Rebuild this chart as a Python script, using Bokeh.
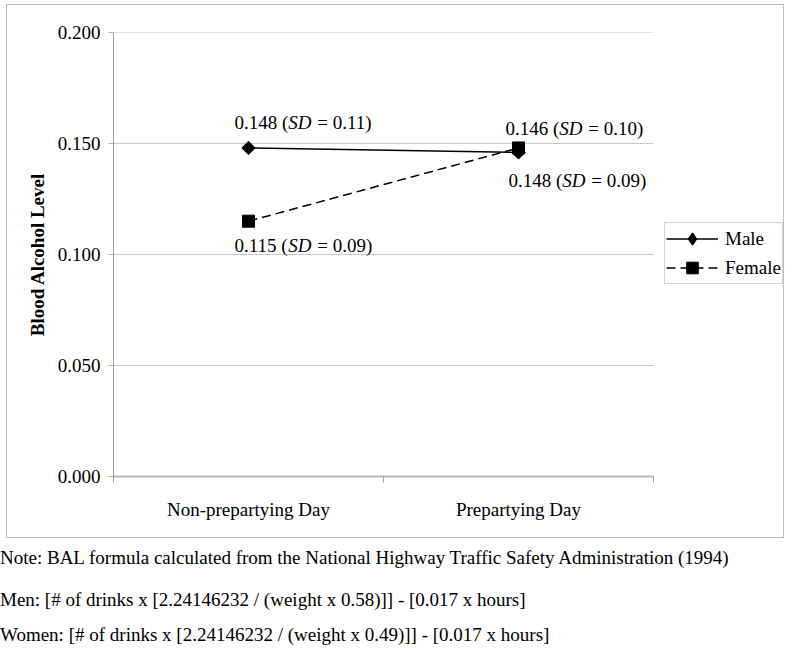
import math
from bokeh.plotting import figure
from bokeh.layouts import column
from bokeh.models import (FixedTicker, Range1d, Legend, LegendItem, Div,
                          NumeralTickFormatter, ColumnDataSource)
from bokeh.core.properties import value
from bokeh.embed import file_html
from bokeh.resources import INLINE

# ---------------- data ----------------
categories = ["Non-prepartying Day", "Prepartying Day"]
series_names = ["Male", "Female"]
male_bal = [0.148, 0.146]
female_bal = [0.115, 0.148]
male_sd = [0.11, 0.10]
female_sd = [0.09, 0.09]
y_ticks = [0.000, 0.050, 0.100, 0.150, 0.200]
y_title = "Blood Alcohol Level"
notes = [
    "Note: BAL formula calculated from the National Highway Traffic Safety Administration (1994)",
    "Men: [# of drinks x [2.24146232 / (weight x 0.58)]] - [0.017 x hours]",
    "Women: [# of drinks x [2.24146232 / (weight x 0.49)]] - [0.017 x hours]",
]

# ---------------- style ----------------
FONT = "Liberation Serif"
FS = 19
FSZ = f"{FS}px"

# label offsets (pixels) relative to each point: (dx, dy) with dy downward
label_offsets = {
    "Male": [(-14, -25), (-13, -24)],
    "Female": [(-14, 24), (-10, 33)],
}

# approximate Times metrics (em) to place italic "SD" inline
REG = {c: 0.5 for c in "0123456789"}
REG.update({".": 0.25, " ": 0.25, "(": 0.333, ")": 0.333, "=": 0.564})
ITA = {"S": 0.5, "D": 0.722}


def em_width(s, table):
    return sum(table.get(c, 0.5) for c in s)


W = 784
CH = 538          # chart block height (bordered)
NH = 640 - CH     # notes block height
PLOT_L, PLOT_R = 113, 653   # pixel extent of the category area

BC = "#bdbdbd"
border_css = ", ".join([
    f"linear-gradient({BC},{BC}) 6px 4px / 778px 1px no-repeat",
    f"linear-gradient({BC},{BC}) 6px 537px / 778px 1px no-repeat",
    f"linear-gradient({BC},{BC}) 6px 4px / 1px 534px no-repeat",
    f"linear-gradient({BC},{BC}) 783px 4px / 1px 534px no-repeat",
    "white",
])

ncat = len(categories)
x_end = ncat * (W - PLOT_L) / (PLOT_R - PLOT_L)

p = figure(width=W, height=CH, output_backend="svg", toolbar_location=None,
           x_range=Range1d(0, x_end), y_range=Range1d(0, 0.2),
           min_border_left=PLOT_L, min_border_right=0,
           min_border_top=32, min_border_bottom=62,
           styles={"background": border_css})
p.outline_line_color = None
p.background_fill_color = None
p.border_fill_color = None

xs = [i + 0.5 for i in range(ncat)]

# horizontal grid lines limited to the category area
p.segment(x0=[0] * len(y_ticks), x1=[ncat] * len(y_ticks), y0=y_ticks, y1=y_ticks,
          line_color="#c8c8c8", line_width=1)

# x axis
xa = p.xaxis[0]
xa.bounds = (0, ncat)
xa.ticker = FixedTicker(ticks=xs, minor_ticks=list(range(ncat + 1)))
xa.major_label_overrides = {x: c for x, c in zip(xs, categories)}
xa.major_tick_out = 0
xa.major_tick_in = 0
xa.minor_tick_out = 6
xa.minor_tick_in = 0
xa.minor_tick_line_color = "#a0a0a0"
xa.axis_line_color = "#b8b8b8"
xa.axis_line_width = 2
xa.major_label_text_font = FONT
xa.major_label_text_font_size = FSZ
xa.major_label_text_color = "black"
xa.major_label_standoff = 16
p.xgrid.visible = False
p.ygrid.visible = False

# y axis
ya = p.yaxis[0]
ya.ticker = FixedTicker(ticks=y_ticks)
ya.formatter = NumeralTickFormatter(format="0.000")
ya.major_tick_out = 5
ya.major_tick_in = 0
ya.minor_tick_line_color = None
ya.major_tick_line_color = "#b0b0b0"
ya.axis_line_color = "#a0a0a0"
ya.major_label_text_font = FONT
ya.major_label_text_font_size = FSZ
ya.major_label_text_color = "black"
ya.major_label_standoff = 8
ya.axis_label = y_title
ya.axis_label_text_font = FONT
ya.axis_label_text_font_size = FSZ
ya.axis_label_text_font_style = "bold"
ya.axis_label_text_color = "black"
ya.axis_label_standoff = 7

# series
male_line = p.line(xs, male_bal, line_color="black", line_width=1.5)
male_pts = p.scatter(xs, male_bal, marker="square", size=9.5, angle=math.pi / 4,
                     fill_color="black", line_color="black")
female_line = p.line(xs, female_bal, line_color="black", line_width=1.5, line_dash="9 5")
female_pts = p.scatter(xs, female_bal, marker="square", size=12,
                       fill_color="black", line_color="black")
# legend-only diamond (no visible data)
male_key = p.scatter([float("nan")], [float("nan")], marker="diamond", size=14,
                     fill_color="black", line_color="black", line_width=1.5)

# data labels with italic SD
reg_rows = dict(x=[], y=[], text=[], xo=[], yo=[])
ita_rows = dict(x=[], y=[], text=[], xo=[], yo=[])
for name, vals, sds in (("Male", male_bal, male_sd), ("Female", female_bal, female_sd)):
    for i, (v, sd) in enumerate(zip(vals, sds)):
        dx, dy = label_offsets[name][i]
        pre = f"{v:.3f} ("
        mid = "SD"
        post = f"= {sd:.2f})"
        w1 = em_width(pre, REG) * FS
        w2 = em_width(mid, ITA) * FS
        wsp = REG[" "] * FS
        reg_rows["x"] += [xs[i], xs[i]]
        reg_rows["y"] += [v, v]
        reg_rows["text"] += [pre, post]
        reg_rows["xo"] += [dx, dx + w1 + w2 + wsp + 1]
        reg_rows["yo"] += [dy, dy]
        ita_rows["x"].append(xs[i])
        ita_rows["y"].append(v)
        ita_rows["text"].append(mid)
        ita_rows["xo"].append(dx + w1)
        ita_rows["yo"].append(dy)

p.text(x="x", y="y", text="text", x_offset="xo", y_offset="yo",
       source=ColumnDataSource(reg_rows), text_font=value(FONT),
       text_font_size=FSZ, text_baseline="middle", text_align="left",
       text_color="black")
p.text(x="x", y="y", text="text", x_offset="xo", y_offset="yo",
       source=ColumnDataSource(ita_rows), text_font=value(FONT),
       text_font_size=FSZ, text_font_style="italic", text_baseline="middle",
       text_align="left", text_color="black")

# legend (inside the widened frame, right of the category area)
legend = Legend(items=[LegendItem(label=series_names[0], renderers=[male_line, male_key]),
                       LegendItem(label=series_names[1], renderers=[female_line, female_pts])],
                location=(551, 192))
legend.label_text_font = FONT
legend.label_text_font_size = FSZ
legend.label_text_color = "black"
legend.glyph_width = 52
legend.glyph_height = 29
legend.label_height = 29
legend.spacing = 0
legend.padding = 1
legend.margin = 0
legend.label_standoff = 7
legend.border_line_color = "#a8a8a8"
legend.background_fill_color = "white"
legend.background_fill_alpha = 1
p.add_layout(legend)

# notes block below the chart (HTML text)
line_css = ["height:40px;line-height:40px;", "height:44px;line-height:44px;",
            "height:18px;line-height:26px;"]
notes_html = "".join(f'<div style="{c}">{t}</div>' for c, t in zip(line_css, notes))
notes_div = Div(
    text=(f'<div style="font-family:\'{FONT}\';font-size:{FS}px;'
          f'color:#000;white-space:nowrap;margin:0;padding:0;">{notes_html}</div>'),
    width=W, height=NH, margin=0)

layout = column(p, notes_div, spacing=0)
open("out.html", "w").write(file_html(layout, INLINE))
